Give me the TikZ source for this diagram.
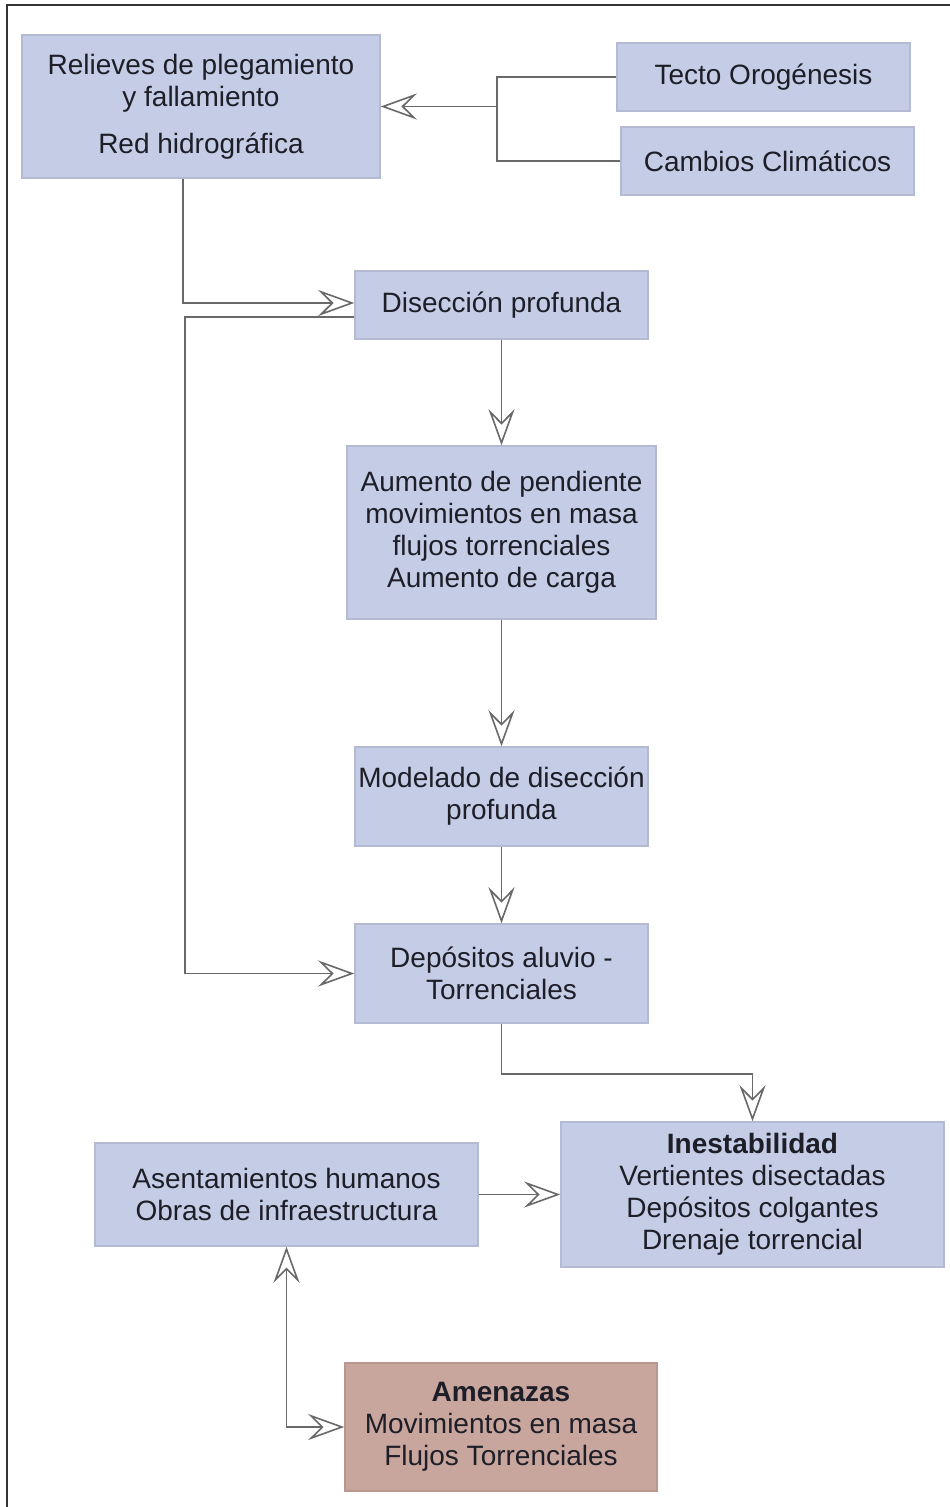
\documentclass[tikz,border=0pt]{standalone}
\usepackage{fontspec}
\setmainfont{Liberation Sans}
\usetikzlibrary{arrows.meta}
\definecolor{boxblue}{RGB}{197,205,230}
\definecolor{boxedge}{RGB}{180,186,210}
\definecolor{boxrose}{RGB}{201,166,157}
\definecolor{roseedge}{RGB}{185,150,142}
\definecolor{linegray}{RGB}{105,105,105}
\definecolor{txt}{RGB}{30,30,40}
\begin{document}
\begin{tikzpicture}[x=1pt,y=-1pt,
  box/.style={rectangle, fill=boxblue, draw=boxedge, line width=1.5pt, inner sep=0pt,
    align=center, text=txt, font=\fontsize{28}{32}\selectfont},
  rosebox/.style={box, fill=boxrose, draw=roseedge},
  conn/.style={draw=linegray, line width=1.6pt},
  arr/.style={conn, -{Stealth[open, length=36pt, width=26pt, inset=13pt, line width=1.6pt]}},
  dblarr/.style={conn, {Stealth[open, length=36pt, width=26pt, inset=13pt, line width=1.6pt]}-{Stealth[open, length=36pt, width=26pt, inset=13pt, line width=1.6pt]}}]
\useasboundingbox (0,0) rectangle (950,1507);
\fill[white] (0,0) rectangle (950,1507);
% frame (top and left edges visible)
\draw[line width=2pt, black!80] (7,1507) -- (7,5) -- (950,5);

\node[box, minimum width=358pt, minimum height=143pt] (rel) at (201,106.5)
  {Relieves de plegamiento\\y fallamiento\\[15pt]Red hidrográfica};
\node[box, minimum width=293pt, minimum height=68pt] (tecto) at (763.5,77) {Tecto Orogénesis};
\node[box, minimum width=293pt, minimum height=68pt] (camb) at (767.5,161) {Cambios Climáticos};
\node[box, minimum width=293pt, minimum height=68pt] (dis) at (501.5,305) {Disección profunda};
\node[box, minimum width=309pt, minimum height=173pt] (aum) at (501.5,532.5)
  {Aumento de pendiente\\movimientos en masa\\flujos torrenciales\\Aumento de carga};
\node[box, minimum width=293pt, minimum height=99pt] (mod) at (501.5,796.5)
  {Modelado de disección\\profunda};
\node[box, minimum width=293pt, minimum height=99pt] (dep) at (501.5,973.5)
  {Depósitos aluvio -\\Torrenciales};
\node[box, minimum width=383pt, minimum height=145pt] (ine) at (752.5,1194.5)
  {\textbf{Inestabilidad}\\Vertientes disectadas\\Depósitos colgantes\\Drenaje torrencial};
\node[box, minimum width=383pt, minimum height=103pt] (ase) at (286.5,1194.5)
  {Asentamientos humanos\\Obras de infraestructura};
\node[rosebox, minimum width=312pt, minimum height=128pt] (ame) at (501,1427)
  {\textbf{Amenazas}\\Movimientos en masa\\Flujos Torrenciales};

% connectors
\coordinate (j1) at (497,106.5);
\draw[conn] (tecto.west) -| (j1);
\draw[conn] (camb.west) -| (j1);
\draw[arr] (j1) -- (rel.east);

\draw[arr] ([xshift=-18pt]rel.south) |- ([yshift=2pt]dis.west);
\draw[arr] ([yshift=-12pt]dis.west) -| (185,650) |- (dep.west);

\draw[arr] (dis.south) -- (aum.north);
\draw[arr] (aum.south) -- (mod.north);
\draw[arr] (mod.south) -- (dep.north);
\draw[arr] (dep.south) -- ++(0,50) -| (ine.north);

\draw[arr] (ase.east) -- (ine.west);
\draw[dblarr] (ase.south) |- (ame.west);
\end{tikzpicture}
\end{document}
